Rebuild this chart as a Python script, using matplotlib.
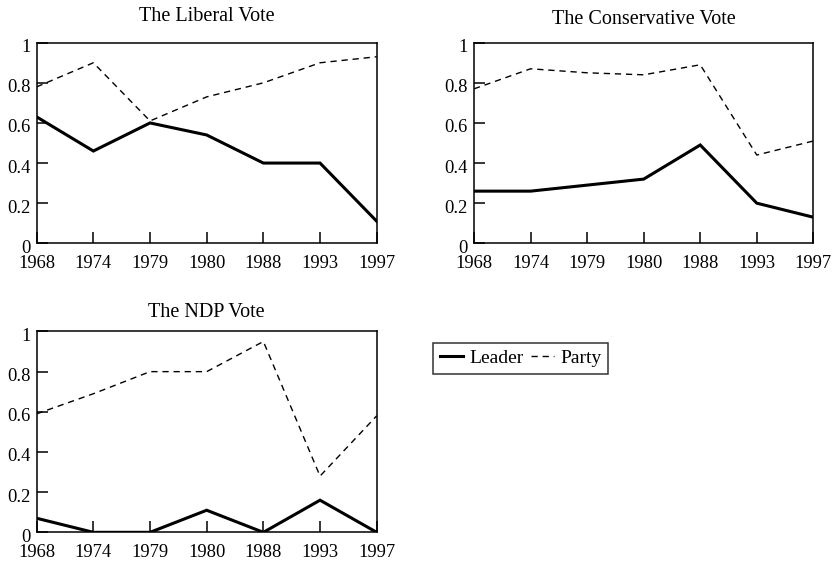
import matplotlib
matplotlib.use("Agg")
import matplotlib.pyplot as plt
import matplotlib.transforms as mtransforms

plt.rcParams['font.family'] = ['Liberation Serif', 'DejaVu Serif']

years = ["1968", "1974", "1979", "1980", "1988", "1993", "1997"]
yticks = [0, 0.2, 0.4, 0.6, 0.8, 1.0]
ytick_labels = ["0", "0.2", "0.4", "0.6", "0.8", "1"]

liberal_leader = [0.63, 0.46, 0.60, 0.54, 0.40, 0.40, 0.11]
liberal_party = [0.78, 0.90, 0.61, 0.73, 0.80, 0.90, 0.93]

conservative_leader = [0.26, 0.26, 0.29, 0.32, 0.49, 0.20, 0.13]
conservative_party = [0.77, 0.87, 0.85, 0.84, 0.89, 0.44, 0.51]

ndp_leader = [0.07, 0.0, 0.0, 0.11, 0.0, 0.16, 0.0]
ndp_party = [0.59, 0.69, 0.80, 0.80, 0.95, 0.28, 0.58]

panels = [
    ("The Liberal Vote", liberal_leader, liberal_party, [0.0439, 0.5671, 0.4067, 0.3569], 15.5),
    ("The Conservative Vote", conservative_leader, conservative_party, [0.5670, 0.5671, 0.4059, 0.3569], 13.5),
    ("The NDP Vote", ndp_leader, ndp_party, [0.0439, 0.0528, 0.4067, 0.3574], 10.5),
]

fig = plt.figure(figsize=(8.36, 5.62), dpi=100)
x = list(range(len(years)))
handles = None
shift = mtransforms.ScaledTranslation(0, -3 / 100, fig.dpi_scale_trans)
for title, leader, party, rect, pad in panels:
    ax = fig.add_axes(rect)
    h1, = ax.plot(x, leader, color='black', lw=2.2, solid_joinstyle='miter', label='Leader')
    h2, = ax.plot(x, party, color='black', lw=1.0, linestyle=(0, (4.5, 3.5)), label='Party')
    handles = [h1, h2]
    ax.set_xlim(0, len(years) - 1)
    ax.set_ylim(0, 1)
    ax.set_xticks(x)
    ax.set_xticklabels(years)
    ax.set_yticks(yticks)
    ax.set_yticklabels(ytick_labels)
    ax.tick_params(axis='both', direction='in', length=8, width=1.1, labelsize=13.3,
                   top=False, right=False)
    ax.tick_params(axis='x', pad=8.5)
    ax.tick_params(axis='y', pad=4.5)
    for lbl in ax.get_yticklabels():
        lbl.set_transform(lbl.get_transform() + shift)
    for s in ax.spines.values():
        s.set_linewidth(1.1)
    ax.set_title(title, fontsize=14.5, pad=pad)

leg = fig.legend(handles, ["Leader", "Party"], loc='upper left',
                 bbox_to_anchor=(0.518, 0.390), ncol=2, fontsize=14,
                 frameon=True, fancybox=False, handlelength=1.2,
                 handletextpad=0.3, columnspacing=0.4, borderpad=0.35,
                 borderaxespad=0)
leg.get_frame().set_edgecolor('black')
leg.get_frame().set_linewidth(1.1)

fig.savefig("out.png", dpi=100)
